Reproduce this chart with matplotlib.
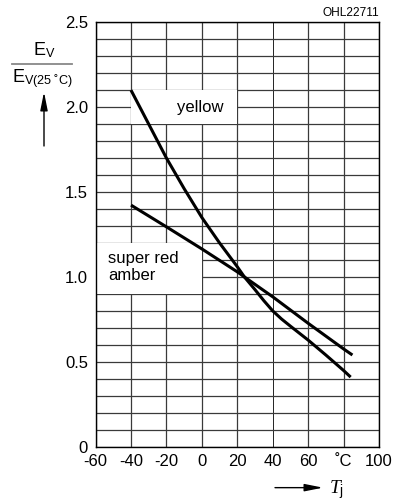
import matplotlib
matplotlib.use("Agg")
import matplotlib.pyplot as plt
from matplotlib.patches import Rectangle
from matplotlib.lines import Line2D
import numpy as np

plt.rcParams['font.family'] = ['Liberation Sans', 'DejaVu Sans']
plt.rcParams['mathtext.fontset'] = 'custom'
plt.rcParams['mathtext.rm'] = 'Liberation Sans'
plt.rcParams['mathtext.it'] = 'Liberation Serif:italic'

# Temperatur (°C) und relative Lichtstärke
temp_yellow = [-40, -30, -20, -10, 0, 10, 20, 24, 30, 35, 40, 45, 50, 60, 70, 80, 84]
ev_yellow = [2.10, 1.90, 1.70, 1.52, 1.35, 1.20, 1.06, 1.00, 0.925, 0.86, 0.80, 0.752,
             0.71, 0.628, 0.54, 0.449, 0.41]

temp_red = [-40, -20, 0, 20, 24, 40, 60, 80, 85]
ev_red = [1.423, 1.295, 1.165, 1.03, 1.00, 0.883, 0.727, 0.576, 0.54]

x_ticks = [-60, -40, -20, 0, 20, 40, 60, 80, 100]
x_labels = ['-60', '-40', '-20', '0', '20', '40', '60', '˚C', '100']
y_ticks = [0, 0.5, 1.0, 1.5, 2.0, 2.5]
y_labels = ['0', '0.5', '1.0', '1.5', '2.0', '2.5']

fig = plt.figure(figsize=(4, 5), dpi=100)
ax = fig.add_axes([0.239, 0.1066, 0.7085, 0.8488])

ax.set_xlim(-60, 100)
ax.set_ylim(0, 2.5)
ax.set_xticks(x_ticks)
ax.set_xticklabels(x_labels, fontsize=12)
ax.set_yticks(y_ticks)
ax.set_yticklabels(y_labels, fontsize=12)
ax.set_yticks(np.arange(0, 2.51, 0.1), minor=True)
ax.tick_params(axis='y', which='both', length=0, pad=5.5)
ax.tick_params(axis='x', which='both', length=0, pad=5)

ax.set_axisbelow(True)
ax.grid(True, which='major', axis='x', color='#3a3a3a', linewidth=0.9)
ax.grid(True, which='both', axis='y', color='#3a3a3a', linewidth=0.9)
# die 40-°C-Linie ist im Original dünner und schwarz
gl40 = ax.xaxis.get_gridlines()[5]
gl40.set_color('black')
gl40.set_linewidth(0.6)
for sp in ax.spines.values():
    sp.set_linewidth(1.0)
    sp.set_color('black')

# weiße Felder hinter den Beschriftungen
ax.add_patch(Rectangle((-40, 1.9), 60, 0.2, facecolor='white', edgecolor='none', zorder=1))
ax.add_patch(Rectangle((-60, 0.9), 60, 0.3, facecolor='white', edgecolor='none', zorder=1))

ax.plot(temp_yellow, ev_yellow, color='black', linewidth=2.2, zorder=3,
        solid_capstyle='butt', solid_joinstyle='round')
ax.plot(temp_red, ev_red, color='black', linewidth=2.2, zorder=3,
        solid_capstyle='butt', solid_joinstyle='round')

ax.text(-14, 2.0, 'yellow', fontsize=12, va='center', ha='left', zorder=2)
ax.text(-53, 1.058, 'super red\namber', fontsize=12, va='center', ha='left', zorder=2)

fig.text(0.9475, 0.974, 'OHL22711', fontsize=8.6, ha='right', va='center')

# y-Achsenbeschriftung als Bruch
fig.text(0.0825, 0.89, r'E$_\mathrm{V}$', fontsize=13, ha='left', va='baseline')
fig.add_artist(Line2D([0.03, 0.18], [0.873, 0.873], color='#888888', linewidth=1.3,
                      transform=fig.transFigure))
fig.text(0.03, 0.836, r'E$_\mathrm{V(25\ ˚C)}$', fontsize=13, ha='left', va='baseline')
ax.annotate('', xy=(0.11, 0.816), xytext=(0.11, 0.708), xycoords='figure fraction',
            arrowprops=dict(arrowstyle='-|>,head_length=1.1,head_width=0.22',
                            color='black', linewidth=1.0, shrinkA=0, shrinkB=0))

# x-Achsenbeschriftung
ax.annotate('', xy=(0.8075, 0.0247), xytext=(0.6875, 0.0247), xycoords='figure fraction',
            arrowprops=dict(arrowstyle='-|>,head_length=1.1,head_width=0.22',
                            color='black', linewidth=1.0, shrinkA=0, shrinkB=0))
fig.text(0.823, 0.014, r'$T_\mathrm{j}$', fontsize=14, ha='left', va='baseline')

fig.savefig('out.png', dpi=100)
